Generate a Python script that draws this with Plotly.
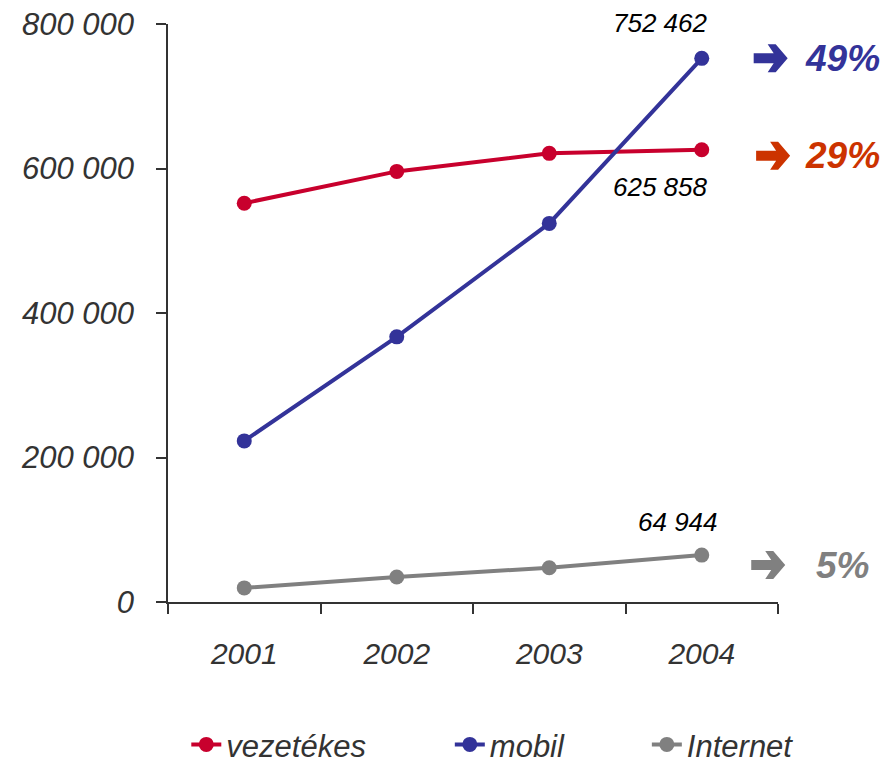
import plotly.graph_objects as go

years = ["2001", "2002", "2003", "2004"]
vezetekes = [552000, 596000, 621000, 625858]
mobil = [223000, 367000, 524000, 752462]
internet = [19500, 34500, 47500, 64944]
series_names = ["vezetékes", "mobil", "Internet"]
growth = ["29%", "49%", "5%"]
ytick_vals = [0, 200000, 400000, 600000, 800000]
ytick_text = ["0", "200 000", "400 000", "600 000", "800 000"]

colors = ["#C8002D", "#333399", "#808080"]
growth_colors = ["#CC3300", "#333399", "#808080"]
FONT = "Liberation Sans, Arial, sans-serif"
legend_ids = ["legend", "legend2", "legend3"]
legend_x = [0.03, 0.462, 0.785]

fig = go.Figure()
for name, vals, col, lid in zip(series_names, [vezetekes, mobil, internet], colors, legend_ids):
    fig.add_trace(go.Scatter(
        x=years, y=vals, name=f"<i>{name}</i>", mode="lines+markers",
        line=dict(color=col, width=4),
        marker=dict(color=col, size=15),
        legend=lid,
    ))

def fmt(v):
    return f"{v:,}".replace(",", " ")

last = len(years) - 1
# value labels
fig.add_annotation(x=last, y=mobil[last], text=f"<i>{fmt(mobil[last])}</i>", showarrow=False,
                   xanchor="right", yanchor="middle", xshift=8, yshift=35,
                   font=dict(family=FONT, size=26, color="#000000"))
fig.add_annotation(x=last, y=vezetekes[last], text=f"<i>{fmt(vezetekes[last])}</i>", showarrow=False,
                   xanchor="right", yanchor="middle", xshift=8, yshift=-37,
                   font=dict(family=FONT, size=26, color="#000000"))
fig.add_annotation(x=last, y=internet[last], text=f"<i>{fmt(internet[last])}</i>", showarrow=False,
                   xanchor="right", yanchor="middle", xshift=18, yshift=33,
                   font=dict(family=FONT, size=26, color="#000000"))

# growth arrows and percentages
ydata = [vezetekes[last], mobil[last], internet[last]]
yshifts = [-6, 0, -10]
arrow_x = [0.992, 0.988, 0.984]


def arrow_path(dy):
    pts = [(-17, -5), (3, -5), (-3, -14), (5, -14), (17, 0), (5, 14), (-3, 14), (3, 5), (-17, 5)]
    return "M" + " L".join(f"{px},{py + dy}" for px, py in pts) + " Z"


for g, gc, yv, ys, ax in zip(growth, growth_colors, ydata, yshifts, arrow_x):
    fig.add_shape(type="path", xref="paper", yref="y", xsizemode="pixel", ysizemode="pixel",
                  xanchor=ax, yanchor=yv, path=arrow_path(ys),
                  fillcolor=gc, line=dict(width=0))
    fig.add_annotation(x=1.105, xref="paper", y=yv, yref="y", text=f"<b><i>{g}</i></b>", showarrow=False,
                       xanchor="center", yanchor="middle", yshift=ys,
                       font=dict(family=FONT, size=37, color=gc))

legend_common = dict(orientation="h", xanchor="left", y=-0.247, yanchor="middle",
                     font=dict(family=FONT, size=31, color="#333333"), bgcolor="rgba(0,0,0,0)")
fig.update_layout(
    width=895, height=763,
    margin=dict(l=168, r=117, t=24, b=161, autoexpand=False),
    plot_bgcolor="white", paper_bgcolor="white",
    font=dict(family=FONT, color="#333333"),
    showlegend=True,
    legend=dict(x=legend_x[0], **legend_common),
    legend2=dict(x=legend_x[1], **legend_common),
    legend3=dict(x=legend_x[2], **legend_common),
)
fig.update_xaxes(
    type="category", range=[-0.5, 3.5], showline=True, linecolor="#333333", linewidth=1.5,
    ticks="outside", tickson="boundaries", ticklen=10, tickcolor="#333333", tickwidth=1.5,
    showgrid=False, zeroline=False,
    tickvals=years, ticktext=[f"<i>{y}</i>" for y in years],
    tickfont=dict(family=FONT, size=30, color="#333333"),
    ticklabelstandoff=24,
)
fig.update_yaxes(
    range=[0, 800000], showline=True, linecolor="#333333", linewidth=1.5,
    ticks="outside", ticklen=10, tickcolor="#333333", tickwidth=1.5,
    tickvals=ytick_vals, ticktext=[f"<i>{t}</i>" for t in ytick_text],
    showgrid=False, zeroline=False,
    tickfont=dict(family=FONT, size=31, color="#333333"),
    ticklabelstandoff=16,
)

fig.write_html("out.html")
